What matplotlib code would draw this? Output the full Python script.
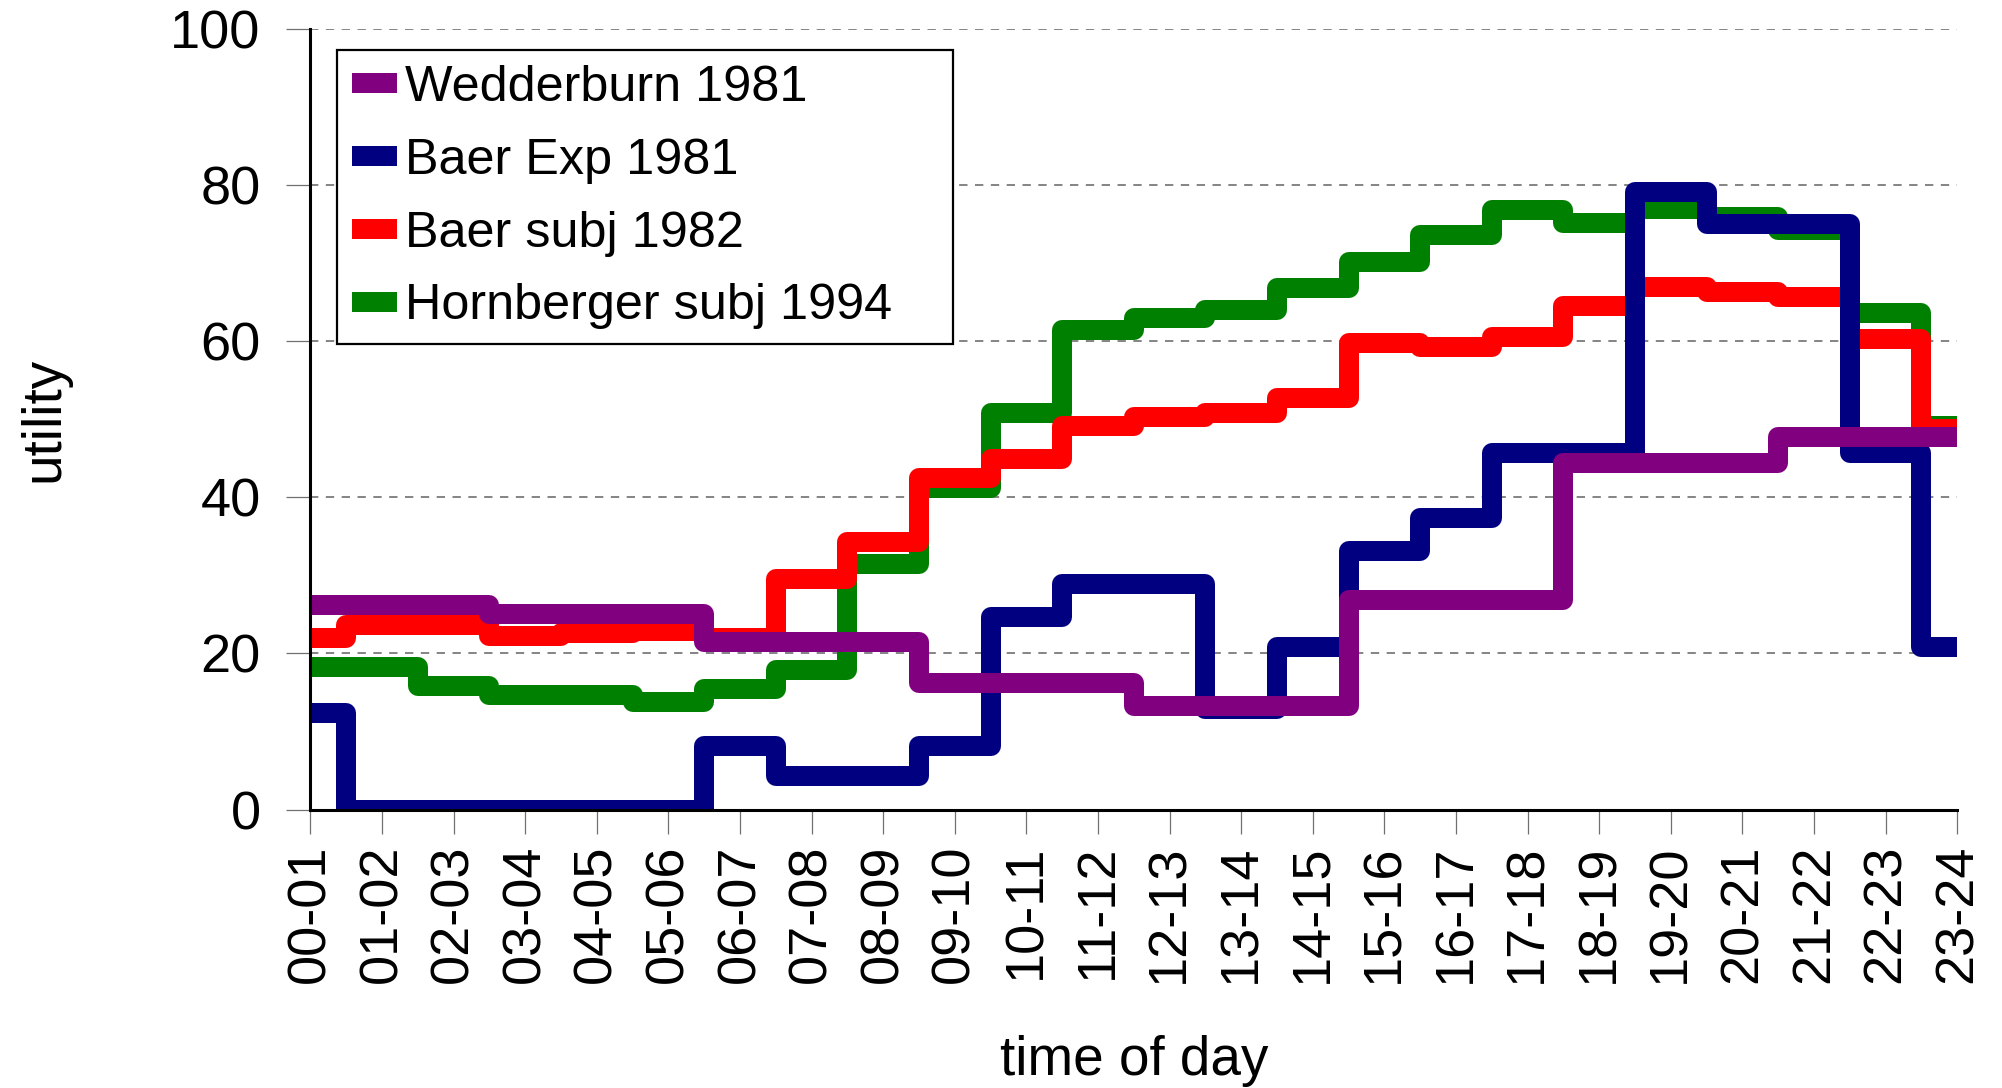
# Step chart: utility of time of day, four studies

import matplotlib
matplotlib.use("Agg")
from matplotlib import pyplot as plt

hours = ["00-01", "01-02", "02-03", "03-04", "04-05", "05-06", "06-07", "07-08",
         "08-09", "09-10", "10-11", "11-12", "12-13", "13-14", "14-15", "15-16",
         "16-17", "17-18", "18-19", "19-20", "20-21", "21-22", "22-23", "23-24"]

wedderburn_1981 = [26.2, 26.2, 26.2, 25.0, 25.0, 25.0, 21.5, 21.5, 21.5, 16.2, 16.2, 16.2,
                   13.3, 13.3, 13.3, 26.9, 26.9, 26.9, 44.4, 44.4, 44.4, 47.7, 47.7, 47.7]
baer_exp_1981 = [12.4, 0, 0, 0, 0, 0, 8.1, 4.3, 4.3, 8.1, 24.7, 28.9,
                 28.9, 12.9, 20.8, 33.2, 37.4, 45.7, 45.7, 79.1, 75.0, 75.0, 45.7, 20.8]
baer_subj_1982 = [22.0, 23.7, 23.7, 22.2, 22.6, 22.9, 22.0, 29.5, 34.3, 42.5, 44.9, 49.1,
                  50.3, 50.8, 52.7, 59.8, 59.3, 60.6, 64.5, 67.0, 66.4, 65.7, 60.3, 48.8]
hornberger_subj_1994 = [18.3, 18.3, 15.8, 14.7, 14.7, 13.8, 15.5, 17.9, 31.5, 41.2, 50.8, 61.5,
                        63.0, 64.0, 66.8, 70.2, 73.7, 76.9, 75.2, 77.0, 76.0, 74.3, 63.7, 49.2]

series = [
    ("Wedderburn 1981", wedderburn_1981, "#800080"),
    ("Baer Exp 1981", baer_exp_1981, "#000080"),
    ("Baer subj 1982", baer_subj_1982, "#ff0000"),
    ("Hornberger subj 1994", hornberger_subj_1994, "#008000"),
]

plt.rcParams["font.family"] = ["Liberation Sans", "DejaVu Sans"]

W, H = 2002, 1088
fig = plt.figure(figsize=(W / 100, H / 100), dpi=100)
ax = fig.add_axes([310.3 / W, 1 - 809.5 / H, 1647.0 / W, 780.1 / H])

x = list(range(len(hours)))
for i, (name, vals, col) in enumerate(series):
    ax.plot(x, vals, drawstyle="steps-mid", color=col, lw=14.4, label=name,
            solid_joinstyle="round", solid_capstyle="butt", zorder=10 - i)

ax.set_xlim(0, len(hours) - 1)
ax.set_ylim(0, 100)
ax.set_yticks([0, 20, 40, 60, 80, 100])
ax.set_xticks(x)
ax.set_xticklabels(hours, rotation=90, va="top", ha="center")

ax.grid(axis="y", color="#707070", lw=1.2, linestyle=(0, (5, 4.5)))
ax.set_axisbelow(True)

for s in ["top", "right"]:
    ax.spines[s].set_visible(False)
for s in ["left", "bottom"]:
    ax.spines[s].set_linewidth(2.2)
    ax.spines[s].set_zorder(20)

ax.tick_params(axis="both", direction="out", length=17.3, width=0.9, color="#707070",
               labelsize=39)
ax.tick_params(axis="y", pad=18.5)
ax.tick_params(axis="x", pad=8)

ax.set_xlabel("time of day", fontsize=39.5, va="baseline")
ax.xaxis.set_label_coords(0.5, -(1075 - 809.5) / 780.1)
ax.set_ylabel("utility", fontsize=39.5)
ax.yaxis.set_label_coords((70 - 310.3) / 1647.0, 0.5)

leg = ax.legend(loc="upper left", bbox_to_anchor=(0.0162, 0.5, 0.374, 0.4736),
                mode="expand", borderaxespad=0, fontsize=36.3, handlelength=0.9,
                handletextpad=0.15, labelspacing=0.53, borderpad=0.3,
                fancybox=False, framealpha=1, edgecolor="black")
leg.get_frame().set_linewidth(1.6)
leg.set_zorder(30)

fig.savefig("out.png", dpi=100)
